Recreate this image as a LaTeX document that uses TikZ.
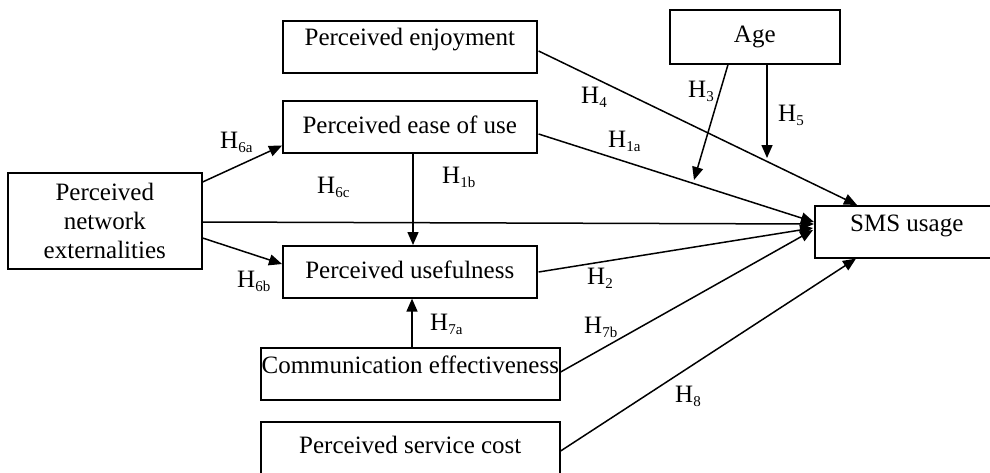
\documentclass[tikz,border=0pt]{standalone}
\usepackage{fontspec}
\setmainfont{Liberation Serif}
\usetikzlibrary{arrows.meta,calc}
\newcommand\hyplab[1]{H\raisebox{-4pt}{\fontsize{15}{15}\selectfont #1}}
\begin{document}
\begin{tikzpicture}[x=1pt,y=-1pt,
  box/.style={draw, line width=1.6pt, inner sep=0pt, anchor=north west, font=\fontsize{25}{29}\selectfont},
  conn/.style={line width=1.5pt, -{Triangle[length=13pt,width=11pt]}},
  hl/.style={anchor=base west, inner sep=0pt, font=\fontsize{25}{29}\selectfont}]
\clip (0,0) rectangle (990,472);
% boxes
\node[box, minimum width=254pt, text height=25pt, text depth=27pt] (pe) at (282,20) {Perceived enjoyment};
\node[box, minimum width=254pt, text height=33pt, text depth=19pt] (peou) at (282,100) {Perceived ease of use};
\node[box, minimum width=254pt, text height=33pt, text depth=19pt] (pu) at (282,245) {Perceived usefulness};
\node[box, minimum width=299pt, text height=26pt, text depth=26pt] (ce) at (260,347) {Communication effectiveness};
\node[box, minimum width=299pt, text height=32pt, text depth=30pt] (psc) at (260,421) {Perceived service cost};
\node[box, minimum width=170pt, text height=33pt, text depth=21pt] (age) at (669,9) {Age};
\node[box, minimum width=184pt, text height=26pt, text depth=26pt] (sms) at (814,205) {SMS usage};
\node[box, minimum width=194pt, minimum height=96pt, align=center] (pne) at (7,172) {Perceived\\network\\externalities};
% free ends of the moderator arrows
\coordinate (h3end) at (694,180);
\coordinate (h5end) at (767,158);
% connectors
\draw[conn] ($(pne.north east)+(0,10)$) -- ($(peou.south west)+(0,-8)$);
\draw[conn] ($(pne.north east)+(0,50)$) -- ($(sms.north west)+(0,19)$);
\draw[conn] ($(pne.north east)+(0,66)$) -- ($(pu.north west)+(0,19)$);
\draw[conn] (peou.south -| 413,0) -- (pu.north -| 413,0);
\draw[conn] (ce.north -| 412,0) -- (pu.south -| 412,0);
\draw[conn] ($(peou.north east)+(1,34)$) -- ($(sms.north west)+(0,17)$);
\draw[conn] ($(pe.north east)+(1,31)$) -- ($(sms.north west)+(43,0)$);
\draw[conn] ($(age.south west)+(59,0)$) -- (h3end);
\draw[conn] ($(age.south west)+(98,0)$) -- (h5end);
\draw[conn] ($(pu.north east)+(1,27)$) -- ($(sms.north west)+(-1,23)$);
\draw[conn] ($(ce.north east)+(0,25)$) -- ($(sms.north west)+(-1,25)$);
\draw[conn] ($(psc.north east)+(0,30)$) -- ($(sms.south west)+(42,0)$);
% hypothesis labels
\node[hl] (l6a) at (220,148) {\hyplab{6a}};
\node[hl] (l6c) at (317,193) {\hyplab{6c}};
\node[hl] (l1b) at (442,183) {\hyplab{1b}};
\node[hl] (l4) at (581,103) {\hyplab{4}};
\node[hl] (l3) at (688,97) {\hyplab{3}};
\node[hl] (l5) at (778,121) {\hyplab{5}};
\node[hl] (l1a) at (608,147) {\hyplab{1a}};
\node[hl] (l6b) at (237,287) {\hyplab{6b}};
\node[hl] (l7a) at (430,330) {\hyplab{7a}};
\node[hl] (l2) at (587,284) {\hyplab{2}};
\node[hl] (l7b) at (584,333) {\hyplab{7b}};
\node[hl] (l8) at (675,402) {\hyplab{8}};
\end{tikzpicture}
\end{document}
